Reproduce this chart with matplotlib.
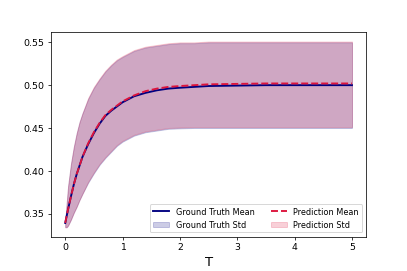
import matplotlib
matplotlib.use("Agg")
import matplotlib.pyplot as plt

# time grid
T = [0, 0.025, 0.05, 0.1, 0.15, 0.2, 0.25, 0.3, 0.4, 0.5, 0.6, 0.7, 0.8, 0.9, 1.0,
     1.2, 1.4, 1.6, 1.8, 2.0, 2.25, 2.5, 3.0, 3.5, 4.0, 4.5, 5.0]

# ground truth mean and std band edges
gt_mean = [0.339, 0.347, 0.355, 0.370, 0.384, 0.396, 0.406, 0.416, 0.431, 0.444,
           0.455, 0.464, 0.470, 0.475, 0.480, 0.487, 0.491, 0.494, 0.496, 0.497,
           0.498, 0.499, 0.4995, 0.500, 0.500, 0.500, 0.500]
gt_upper = [0.340, 0.362, 0.382, 0.408, 0.428, 0.444, 0.457, 0.467, 0.484, 0.497,
            0.507, 0.516, 0.523, 0.529, 0.533, 0.540, 0.544, 0.546, 0.548, 0.549,
            0.549, 0.550, 0.550, 0.550, 0.550, 0.550, 0.550]
gt_lower = [0.334, 0.334, 0.336, 0.343, 0.351, 0.358, 0.366, 0.373, 0.386, 0.397,
            0.407, 0.415, 0.422, 0.429, 0.434, 0.441, 0.445, 0.447, 0.449, 0.4495,
            0.450, 0.450, 0.450, 0.450, 0.450, 0.450, 0.450]

# prediction mean and std band edges
pred_mean = [0.339, 0.347, 0.355, 0.370, 0.384, 0.396, 0.406, 0.416, 0.432, 0.445,
             0.456, 0.465, 0.471, 0.476, 0.481, 0.488, 0.493, 0.496, 0.498, 0.499,
             0.500, 0.501, 0.5015, 0.502, 0.502, 0.502, 0.502]
pred_upper = [0.340, 0.362, 0.382, 0.408, 0.428, 0.444, 0.457, 0.467, 0.485, 0.498,
              0.508, 0.517, 0.524, 0.530, 0.534, 0.541, 0.545, 0.547, 0.549, 0.550,
              0.550, 0.551, 0.551, 0.551, 0.551, 0.551, 0.551]
pred_lower = [0.334, 0.334, 0.336, 0.343, 0.351, 0.358, 0.366, 0.373, 0.387, 0.398,
              0.408, 0.416, 0.423, 0.430, 0.435, 0.442, 0.446, 0.448, 0.450, 0.4505,
              0.451, 0.451, 0.451, 0.451, 0.451, 0.451, 0.451]

fig, ax = plt.subplots(figsize=(6, 4))
fig.subplots_adjust(bottom=0.127)

ax.plot(T, gt_mean, color="navy", lw=2, label="Ground Truth Mean")
ax.fill_between(T, gt_lower, gt_upper, color="navy", alpha=0.2, label="Ground Truth Std")
ax.plot(T, pred_mean, color="crimson", lw=2, ls="--", label="Prediction Mean")
ax.fill_between(T, pred_lower, pred_upper, color="crimson", alpha=0.2, label="Prediction Std")

ax.set_xlabel("T", fontsize=14)
ax.legend(loc="lower right", ncol=2, fontsize=8.6)

fig.savefig("out.png", dpi=407 / 6)
